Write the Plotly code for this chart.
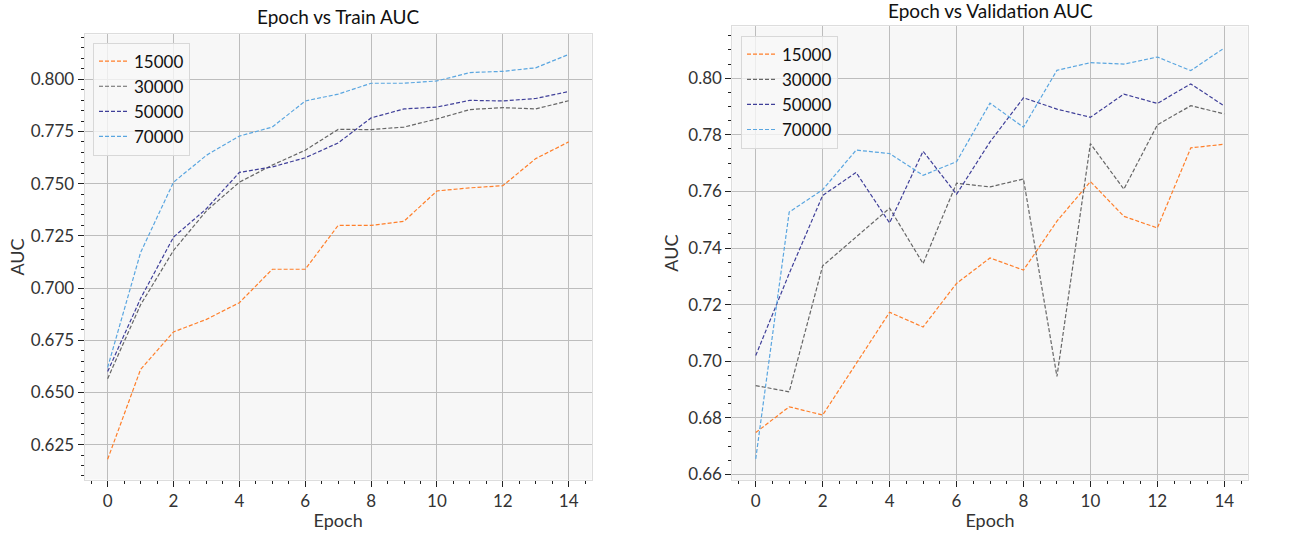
import plotly.graph_objects as go

epochs = list(range(15))
series_names = ["15000", "30000", "50000", "70000"]
colors = ["#ff7f2a", "#666666", "#3f3f99", "#5aa6e0"]

train_15000 = [0.618, 0.661, 0.679, 0.685, 0.693, 0.709, 0.709, 0.730, 0.730, 0.732, 0.7465, 0.748, 0.749, 0.762, 0.770]
train_30000 = [0.6566, 0.692, 0.718, 0.737, 0.7507, 0.7589, 0.766, 0.776, 0.7759, 0.7771, 0.781, 0.7855, 0.7864, 0.7858, 0.7897]
train_50000 = [0.660, 0.695, 0.7244, 0.738, 0.7554, 0.758, 0.7624, 0.7695, 0.7815, 0.7858, 0.7867, 0.7899, 0.7896, 0.7908, 0.7941]
train_70000 = [0.662, 0.717, 0.7507, 0.7636, 0.7728, 0.7771, 0.7896, 0.7929, 0.7981, 0.7981, 0.7992, 0.8032, 0.8038, 0.8055, 0.8119]

val_15000 = [0.6748, 0.6839, 0.681, 0.699, 0.7173, 0.7121, 0.7275, 0.7365, 0.7322, 0.7495, 0.7635, 0.7512, 0.7471, 0.7754, 0.7767]
val_30000 = [0.6914, 0.6892, 0.7337, 0.7439, 0.7541, 0.7345, 0.7629, 0.7616, 0.7644, 0.6946, 0.7769, 0.7608, 0.7835, 0.7903, 0.7874]
val_50000 = [0.702, 0.731, 0.7586, 0.7667, 0.7489, 0.7742, 0.759, 0.7775, 0.7931, 0.7891, 0.7862, 0.7944, 0.7911, 0.798, 0.7902]
val_70000 = [0.6655, 0.7527, 0.7606, 0.7746, 0.7734, 0.7657, 0.7705, 0.7912, 0.7827, 0.8028, 0.8055, 0.805, 0.8075, 0.8027, 0.8107]

train_tickvals = [0.625, 0.650, 0.675, 0.700, 0.725, 0.750, 0.775, 0.800]
train_ticktext = ["0.625", "0.650", "0.675", "0.700", "0.725", "0.750", "0.775", "0.800"]
val_tickvals = [0.66, 0.68, 0.70, 0.72, 0.74, 0.76, 0.78, 0.80]
val_ticktext = ["0.66", "0.68", "0.70", "0.72", "0.74", "0.76", "0.78", "0.80"]
x_tickvals = [0, 2, 4, 6, 8, 10, 12, 14]

FONT = "Lato"
W, H = 1291, 540

fig = go.Figure()
train = [train_15000, train_30000, train_50000, train_70000]
val = [val_15000, val_30000, val_50000, val_70000]
for name, c, ys in zip(series_names, colors, train):
    fig.add_trace(go.Scatter(x=epochs, y=ys, mode="lines", name=name,
                             line=dict(color=c, width=1.2, dash="4px,2px"),
                             xaxis="x", yaxis="y", legend="legend"))
for name, c, ys in zip(series_names, colors, val):
    fig.add_trace(go.Scatter(x=epochs, y=ys, mode="lines", name=name,
                             line=dict(color=c, width=1.2, dash="4px,2px"),
                             xaxis="x2", yaxis="y2", legend="legend2"))

def xax(domain, anchor):
    return dict(domain=domain, anchor=anchor, range=[-0.7, 14.7],
                tickvals=x_tickvals, ticks="outside", ticklen=6, tickcolor="#222",
                showgrid=True, gridcolor="#bdbdbd", gridwidth=1, zeroline=False,
                showline=True, linecolor="#dddddd", mirror=True,
                minor=dict(dtick=0.5, tick0=0, ticks="outside", ticklen=3, tickcolor="#222", showgrid=False),
                tickfont=dict(family=FONT, size=17, color="#333"),
                title=dict(text="Epoch", font=dict(family=FONT, size=18, color="#333"), standoff=4))

def yax(domain, anchor, rng, tv, tt, standoff):
    return dict(domain=domain, anchor=anchor, range=rng, tickvals=tv, ticktext=tt,
                ticks="outside", ticklen=6, tickcolor="#222",
                showgrid=True, gridcolor="#bdbdbd", gridwidth=1, zeroline=False,
                showline=True, linecolor="#dddddd", mirror=True,
                minor=dict(dtick=0.005, ticks="outside", ticklen=3, tickcolor="#222", showgrid=False),
                tickfont=dict(family=FONT, size=17, color="#333"),
                title=dict(text="AUC", font=dict(family=FONT, size=18, color="#333"), standoff=standoff))

fig.update_layout(
    width=W, height=H, margin=dict(l=0, r=0, t=0, b=0),
    paper_bgcolor="white", plot_bgcolor="#f7f7f7",
    font=dict(family=FONT, color="#333"),
    xaxis=xax([84.6 / W, 591.7 / W], "y"),
    yaxis=yax([1 - 484 / H, 1 - 34.7 / H], "x", [0.6083, 0.8215], train_tickvals, train_ticktext, 1),
    xaxis2=xax([732.3 / W, 1247.7 / W], "y2"),
    yaxis2=yax([1 - 484.3 / H, 1 - 26.7 / H], "x2", [0.6581, 0.8183], val_tickvals, val_ticktext, 4),
    legend=dict(x=93 / W, y=1 - 43 / H, xanchor="left", yanchor="top",
                bgcolor="rgba(248,248,248,0.8)", bordercolor="#d8d8d8", borderwidth=1,
                font=dict(family=FONT, size=17, color="#111"), tracegroupgap=0,
                itemwidth=30),
    legend2=dict(x=741 / W, y=1 - 36 / H, xanchor="left", yanchor="top",
                 bgcolor="rgba(248,248,248,0.8)", bordercolor="#d8d8d8", borderwidth=1,
                 font=dict(family=FONT, size=17, color="#111"), tracegroupgap=0,
                 itemwidth=30),
    annotations=[
        dict(text="Epoch vs Train AUC", x=338 / W, y=1 - 17 / H, xref="paper", yref="paper",
             showarrow=False, xanchor="center", yanchor="middle",
             font=dict(family=FONT, size=19, color="#111")),
        dict(text="Epoch vs Validation AUC", x=990 / W, y=1 - 11 / H, xref="paper", yref="paper",
             showarrow=False, xanchor="center", yanchor="middle",
             font=dict(family=FONT, size=19, color="#111")),
    ],
)

fig.write_html("out.html")
